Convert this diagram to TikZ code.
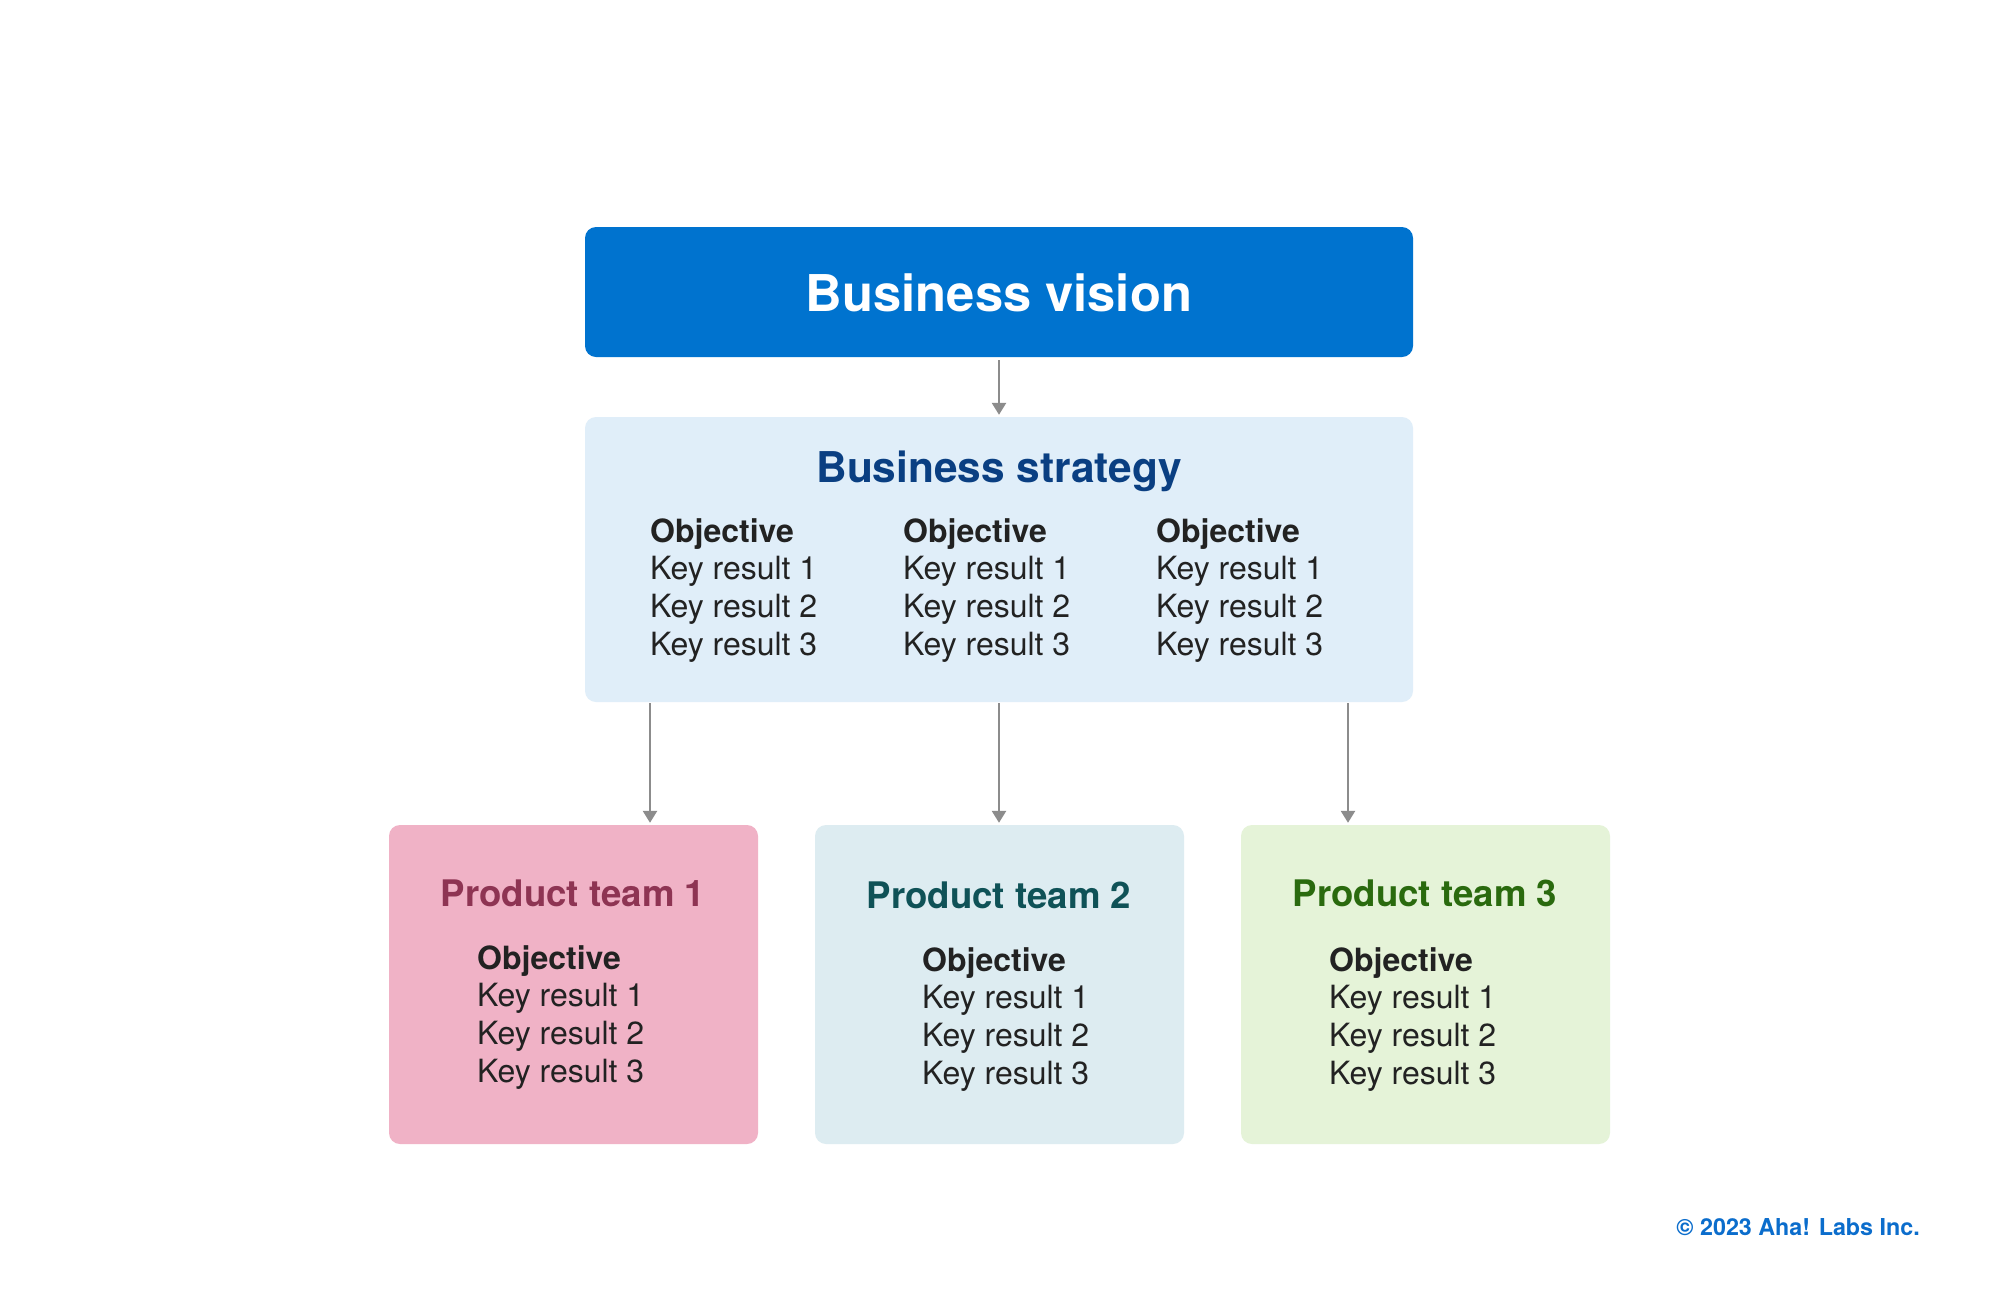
\documentclass[tikz,border=0pt]{standalone}
\usepackage{fontspec}
\setmainfont{TeX Gyre Heros}
\usetikzlibrary{arrows.meta}
\definecolor{visionblue}{HTML}{0073CF}
\definecolor{stratfill}{HTML}{E0EEF9}
\definecolor{strattext}{HTML}{0A3F82}
\definecolor{pinkfill}{HTML}{F0B2C6}
\definecolor{pinktext}{HTML}{8E3453}
\definecolor{tealfill}{HTML}{DDECF1}
\definecolor{tealtext}{HTML}{0F5257}
\definecolor{greenfill}{HTML}{E5F3D8}
\definecolor{greentext}{HTML}{2A6A0E}
\definecolor{bodytext}{HTML}{222222}
\definecolor{arrowgray}{HTML}{8C8C8C}
\definecolor{copyblue}{HTML}{0B6DCC}
\newcommand{\okrlist}{\begin{tabular}[t]{@{}l@{}}\bfseries Objective\\Key result 1\\Key result 2\\Key result 3\end{tabular}}
\begin{document}
\begin{tikzpicture}[x=1pt,y=-1pt,
  box/.style={rounded corners=11pt, draw=none},
  okr/.style={anchor=base west, inner sep=0pt, text=bodytext,
    font=\fontsize{32}{37.8}\selectfont},
  teamtitle/.style={anchor=base, inner sep=0pt, font=\fontsize{36.6}{44}\selectfont\bfseries},
  conn/.style={draw=arrowgray, line width=2.6pt, -{Triangle[width=14pt,length=12pt]}}
]
\fill[white] (0,0) rectangle (2000,1307);
\useasboundingbox (0,0) rectangle (2000,1307);

% boxes
\fill[box, visionblue] (585,227) rectangle (1413,357);
\node[inner sep=0pt, minimum width=828pt, minimum height=130pt] (vision) at (999,292) {};
\node[text=white, font=\fontsize{50.7}{60}\selectfont\bfseries, inner sep=0pt] (visiontitle) at (999,293) {Business vision};

\fill[box, stratfill] (585,417) rectangle (1413,702);
\node[inner sep=0pt, minimum width=828pt, minimum height=285pt] (strategy) at (999,559.5) {};
\node[anchor=base, inner sep=0pt, text=strattext, font=\fontsize{42.4}{50}\selectfont\bfseries] (strattitle) at (999,482) {Business strategy};
\node[okr] (c1) at (650,542) {\okrlist};
\node[okr] (c2) at (903,542) {\okrlist};
\node[okr] (c3) at (1156,542) {\okrlist};

\fill[box, pinkfill] (389,825) rectangle (758,1144);
\node[inner sep=0pt, minimum width=369pt, minimum height=319pt] (t1) at (573.5,984.5) {};
\fill[box, tealfill] (815,825) rectangle (1184,1144);
\node[inner sep=0pt, minimum width=369pt, minimum height=319pt] (t2) at (999.5,984.5) {};
\fill[box, greenfill] (1241,825) rectangle (1610,1144);
\node[inner sep=0pt, minimum width=369pt, minimum height=319pt] (t3) at (1425.5,984.5) {};

\node[teamtitle, text=pinktext] (t1title) at (573,906) {Product team 1};
\node[teamtitle, text=tealtext] (t2title) at (999,908) {Product team 2};
\node[teamtitle, text=greentext] (t3title) at (1425,906) {Product team 3};

\node[okr] (t1okr) at (477,969) {\okrlist};
\node[okr] (t2okr) at (922,971) {\okrlist};
\node[okr] (t3okr) at (1329,971) {\okrlist};

% connectors
\coordinate (a1) at (650,702);
\coordinate (a3) at (1348,702);
\draw[conn, shorten <=3pt, shorten >=2pt] (vision.south) -- (strategy.north);
\draw[conn, shorten <=1pt, shorten >=2pt] (a1) -- (a1 |- t1.north);
\draw[conn, shorten <=1pt, shorten >=2pt] (strategy.south) -- (strategy.south |- t2.north);
\draw[conn, shorten <=1pt, shorten >=2pt] (a3) -- (a3 |- t3.north);

\node[anchor=base east, inner sep=0pt, text=copyblue, font=\fontsize{23.3}{28}\selectfont\bfseries] (copy) at (1920,1235) {© 2023 Aha! Labs Inc.};
\end{tikzpicture}
\end{document}
